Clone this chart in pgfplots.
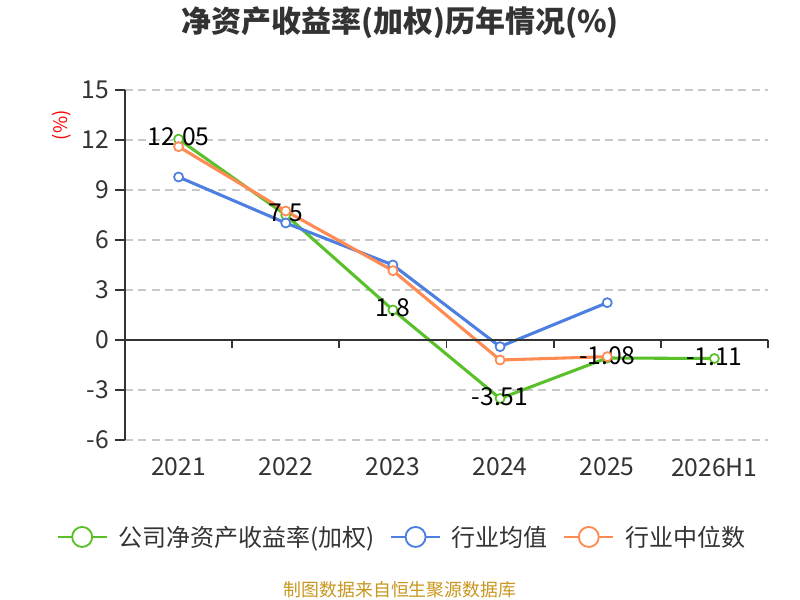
\documentclass[border=0pt]{standalone}
\usepackage{fontspec}
\usepackage{pgfplots}
\pgfplotsset{compat=1.18}
\setmainfont{Noto Sans CJK SC}
\definecolor{cgreen}{HTML}{5AC02A}
\definecolor{cblue}{HTML}{4C7FE0}
\definecolor{corange}{HTML}{FF8A52}
\definecolor{caxis}{HTML}{333333}
\definecolor{cgrid}{HTML}{C8C8C8}
\definecolor{csrc}{HTML}{C8961E}
\begin{document}
\begin{tikzpicture}
\path[use as bounding box] (0,0) rectangle (600pt,450pt);
\node[font=\fontsize{22.5}{26}\selectfont\bfseries, text=caxis] at (300pt,433pt) {净资产收益率(加权)历年情况(\%)};
\node[font=\fontsize{14}{16}\selectfont, text=red, rotate=90] at (46.5pt,356pt) {(\%)};
\node[font=\fontsize{13.4}{15}\selectfont, text=csrc] at (300pt,8pt) {制图数据来自恒生聚源数据库};
\begin{axis}[
  at={(93.75pt,120pt)}, anchor=south west,
  scale only axis, width=482.25pt, height=262.5pt,
  xmin=-0.5, xmax=5.5, ymin=-6, ymax=15,
  xtick={0,1,2,3,4,5},
  xticklabels={2021,2022,2023,2024,2025,2026H1},
  ytick={-6,-3,0,3,6,9,12,15},
  axis lines=left,
  x axis line style={draw=none},
  y axis line style={caxis, line width=1.4pt, -},
  xtick style={draw=none},
  ytick style={caxis, line width=1.4pt},
  ymajorgrids,
  grid style={cgrid, line width=1.1pt, dash pattern=on 6pt off 4pt},
  major tick length=7.5pt,
  tick align=outside,
  ticklabel style={font=\fontsize{18.5}{20}\selectfont, text=caxis},
  xticklabel style={yshift=-2.5pt},
  yticklabel style={xshift=-1pt},
  /pgf/number format/assume math mode=true,
  clip=false,
  legend columns=3,
  legend style={draw=none, fill=none, at={(0.43,-0.277)}, anchor=center,
    font=\fontsize{18}{20}\selectfont, text=caxis,
    /tikz/every even column/.append style={column sep=10.5pt},
    /tikz/every odd column/.append style={column sep=7pt},
    nodes={inner sep=1pt}},
  legend image code/.code={\draw[line width=1.4pt, mark repeat=2,mark phase=2, mark size=7.5pt, mark options={fill=white, line width=1.4pt}] plot coordinates {(0pt,0pt) (18.5pt,0pt) (37pt,0pt)};},
  every axis plot/.append style={line width=2.3pt, mark=*, mark size=3.4pt,
    mark options={fill=white, line width=1.3pt}},
]
\addplot[cgreen, nodes near coords, point meta=explicit symbolic,
  every node near coord/.style={anchor=center, yshift=1.5pt, text=black, font=\fontsize{18.5}{20}\selectfont}]
  coordinates {(0,12.05)[12.05] (1,7.5)[7.5] (2,1.8)[1.8] (3,-3.51)[-3.51] (4,-1.08)[-1.08] (5,-1.11)[-1.11]};
\addlegendentry{公司净资产收益率(加权)}
\addplot[cblue] coordinates {(0,9.78) (1,7.02) (2,4.5) (3,-0.4) (4,2.24)};
\addlegendentry{行业均值}
\addplot[corange] coordinates {(0,11.6) (1,7.74) (2,4.16) (3,-1.2) (4,-1.0)};
\addlegendentry{行业中位数}
\draw[caxis, line width=1.4pt] (axis cs:-0.5,0) -- (axis cs:5.5,0);
\draw[caxis, line width=1.4pt]
  (axis cs:0.5,0) -- ([yshift=-6pt]axis cs:0.5,0)
  (axis cs:1.5,0) -- ([yshift=-6pt]axis cs:1.5,0)
  (axis cs:2.5,0) -- ([yshift=-6pt]axis cs:2.5,0)
  (axis cs:3.5,0) -- ([yshift=-6pt]axis cs:3.5,0)
  (axis cs:4.5,0) -- ([yshift=-6pt]axis cs:4.5,0)
  (axis cs:5.5,0) -- ([yshift=-6pt]axis cs:5.5,0);
\end{axis}
\end{tikzpicture}
\end{document}
